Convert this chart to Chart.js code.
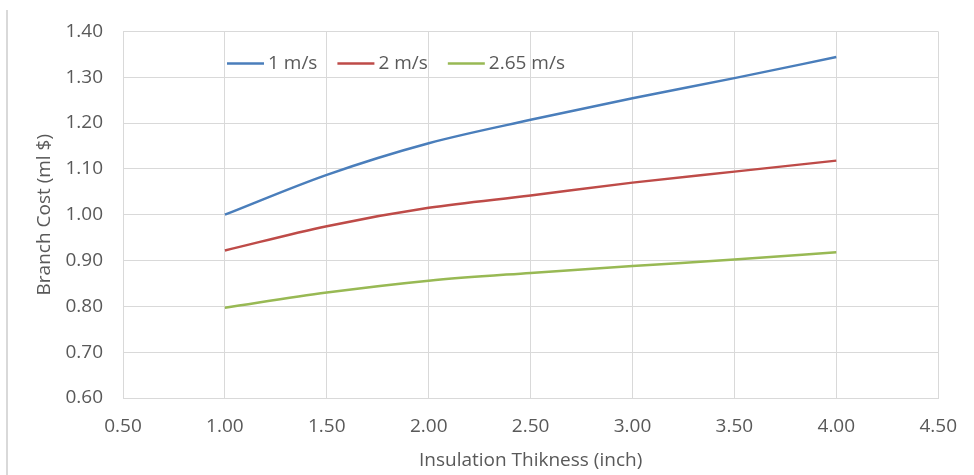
<!DOCTYPE html>
<html>
<head>
<meta charset="utf-8">
<script src="https://cdn.jsdelivr.net/npm/chart.js@4.4.0/dist/chart.umd.min.js"></script>
<style>
  html, body { margin: 0; padding: 0; background: #fff; }
  #wrap { position: relative; width: 974px; height: 475px; }
  #edge { position: absolute; left: 6px; top: 10px; bottom: 0; width: 2px; background: #d9d9d9; }
</style>
</head>
<body>
<div id="wrap">
  <div id="edge"></div>
  <canvas id="chart" width="974" height="475"></canvas>
</div>
<script>
const thickness = [1.0, 1.5, 2.0, 2.5, 3.0, 3.5, 4.0];
const speeds = ['1 m/s', '2 m/s', '2.65 m/s'];
const cost1 = [1.000, 1.087, 1.156, 1.207, 1.254, 1.298, 1.344];
const cost2 = [0.922, 0.975, 1.015, 1.042, 1.070, 1.094, 1.118];
const cost265 = [0.797, 0.830, 0.856, 0.873, 0.888, 0.902, 0.918];
const colors = ['#4a7ebb', '#be4b48', '#98b954'];

const grey = '#595959';
const font = { family: 'Open Sans', size: 19 };

const toPoints = vals => vals.map((v, i) => ({ x: thickness[i], y: v }));

// legend drawn inside the plot area like the Excel original
const innerLegend = {
  id: 'innerLegend',
  afterDraw(chart) {
    const { ctx, chartArea } = chart;
    const y = chartArea.top + 32;
    let x = chartArea.left + 104;
    ctx.save();
    ctx.font = `${font.size}px "${font.family}"`;
    ctx.textBaseline = 'middle';
    chart.data.datasets.forEach(ds => {
      ctx.strokeStyle = ds.borderColor;
      ctx.lineWidth = 2.5;
      ctx.beginPath();
      ctx.moveTo(x, y);
      ctx.lineTo(x + 37, y);
      ctx.stroke();
      ctx.fillStyle = grey;
      ctx.fillText(ds.label, x + 41, y);
      x += 41 + ctx.measureText(ds.label).width + 20;
    });
    ctx.restore();
  }
};

new Chart(document.getElementById('chart'), {
  type: 'line',
  data: {
    datasets: [
      { label: speeds[0], data: toPoints(cost1), borderColor: colors[0] },
      { label: speeds[1], data: toPoints(cost2), borderColor: colors[1] },
      { label: speeds[2], data: toPoints(cost265), borderColor: colors[2] }
    ]
  },
  options: {
    responsive: false,
    animation: false,
    layout: { padding: { top: 31, right: 35, left: 0, bottom: 0 } },
    elements: {
      line: { borderWidth: 2.5, tension: 0.4, cubicInterpolationMode: 'monotone', fill: false },
      point: { radius: 0 }
    },
    plugins: {
      legend: { display: false },
      tooltip: { enabled: false }
    },
    scales: {
      x: {
        type: 'linear',
        min: 0.5,
        max: 4.5,
        ticks: { stepSize: 0.5, color: grey, font: font, padding: 17, callback: v => v.toFixed(2) },
        grid: { color: '#d9d9d9', drawTicks: false },
        border: { color: '#d9d9d9' },
        title: { display: true, text: 'Insulation Thikness (inch)', color: grey, font: font, padding: { top: 0, bottom: 3 } },
        afterFit: s => { s.height = 77; }
      },
      y: {
        min: 0.6,
        max: 1.4,
        ticks: { stepSize: 0.1, color: grey, font: font, padding: 20, callback: v => v.toFixed(2) },
        grid: { color: '#d9d9d9', drawTicks: false },
        border: { color: '#d9d9d9' },
        title: { display: true, text: 'Branch Cost (ml $)', color: grey, font: font, padding: { top: 33, bottom: 0 } },
        afterFit: s => { s.width = 123; }
      }
    }
  },
  plugins: [innerLegend]
});
</script>
</body>
</html>
